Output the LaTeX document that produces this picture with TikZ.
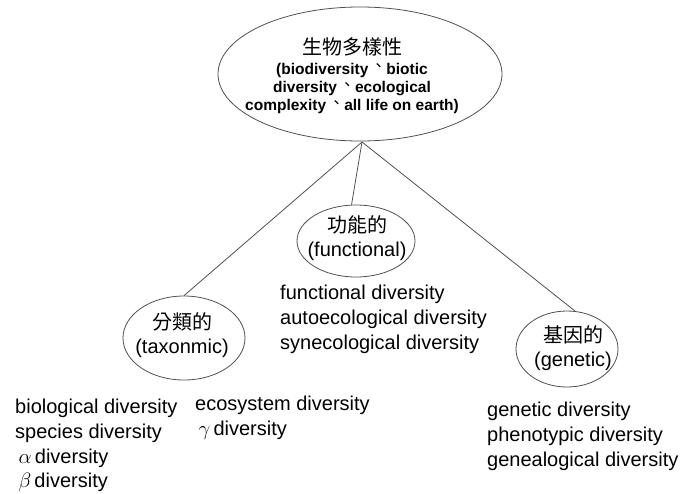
\documentclass[tikz,border=0pt]{standalone}
\usepackage{fontspec}
\setmainfont{Liberation Sans}
\newfontfamily\cjk{Noto Sans CJK TC}
\usetikzlibrary{shapes.geometric}
\definecolor{edge}{HTML}{505050}
\newcommand{\dunhao}{\,\raisebox{2.5pt}{\mdseries\cjk 、}}
\tikzset{
  oval/.style={ellipse, draw=edge, line width=0.8pt, inner sep=0pt},
  conn/.style={draw=edge, line width=0.8pt},
  lbl/.style={align=center, inner sep=0pt, font=\fontsize{20}{23.5}\selectfont},
  toplbl/.style={align=center, inner sep=0pt, font=\fontsize{15.5}{18.2}\selectfont\bfseries},
  lst/.style={align=left, anchor=north west, inner sep=0pt, font=\fontsize{20}{24.7}\selectfont},
}
\begin{document}
\begin{tikzpicture}[x=1pt,y=-1pt]
\useasboundingbox (0,0) rectangle (684,493);
% ellipses
\node[oval, minimum width=284pt, minimum height=134pt] (top) at (360,74) {};
\node[oval, minimum width=118pt, minimum height=72pt] (fun) at (356,241) {};
\node[oval, minimum width=122pt, minimum height=84pt] (tax) at (184,338) {};
\node[oval, minimum width=102pt, minimum height=76pt] (gen) at (567,349) {};
% labels inside ellipses
\node[toplbl] (toptext) at (352,76) {{\mdseries\fontsize{20}{20}\selectfont\cjk 生物多樣性}\\[1.5pt]
(biodiversity\dunhao biotic\\
diversity\dunhao ecological\\
complexity\dunhao all life on earth)};
\node[lbl] (funtext) at (357,238) {{\cjk 功能的}\\(functional)};
\node[lbl] (taxtext) at (182,335) {{\cjk 分類的}\\(taxonmic)};
\node[lbl] (gentext) at (573,348) {{\cjk 基因的}\\(genetic)};
% connectors
\coordinate (apex) at (362,142);
\draw[conn] (apex) -- (tax.north);
\draw[conn] (apex) -- (fun.97);
\draw[conn] (apex) -- (gen.78);
% lists
\node[lst] (funlist) at (280,285) {functional diversity\\autoecological diversity\\synecological diversity};
\node[lst] (taxlist1) at (15,399) {biological diversity\\species diversity\\\,$\alpha$\,diversity\\\,$\beta$\,diversity};
\node[lst] (taxlist2) at (195,396) {ecosystem diversity\\\,$\gamma$\,diversity};
\node[lst] (genlist) at (487,402) {genetic diversity\\phenotypic diversity\\genealogical diversity};
\end{tikzpicture}
\end{document}
